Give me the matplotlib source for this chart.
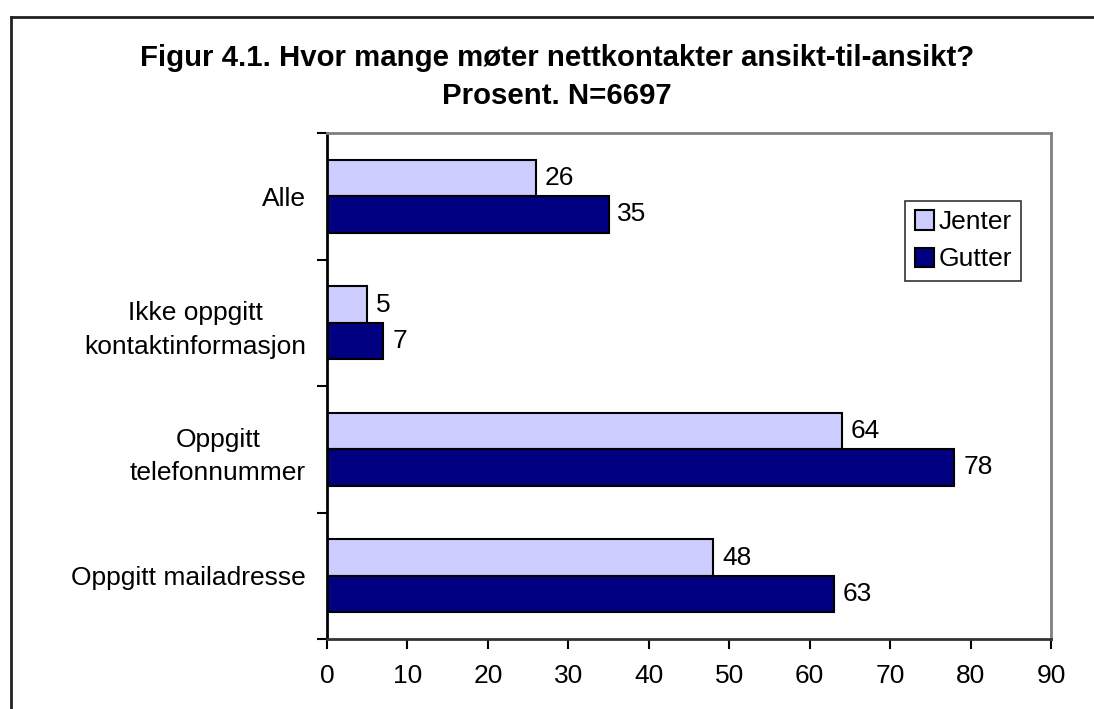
import matplotlib.pyplot as plt
from matplotlib.lines import Line2D
import numpy as np

plt.rcParams['font.family'] = ['Liberation Sans', 'DejaVu Sans']

categories = ["Alle", "Ikke oppgitt\nkontaktinformasjon", "Oppgitt\ntelefonnummer", "Oppgitt mailadresse"]
jenter = [26, 5, 64, 48]
gutter = [35, 7, 78, 63]
xticks = [0, 10, 20, 30, 40, 50, 60, 70, 80, 90]

fig = plt.figure(figsize=(10.94, 7.09), dpi=100)
ax = fig.add_axes([0.2989, 0.0987, 0.6618, 0.7137])

y = np.arange(len(categories))
h = 0.2875
b1 = ax.barh(y - h / 2, jenter, height=h, color="#CCCCFF", edgecolor="black", linewidth=1.5, label="Jenter")
b2 = ax.barh(y + h / 2, gutter, height=h, color="#000080", edgecolor="black", linewidth=1.5, label="Gutter")

for bars, vals in [(b1, jenter), (b2, gutter)]:
    for bar, v in zip(bars, vals):
        ax.text(bar.get_width() + 1.1, bar.get_y() + bar.get_height() / 2, str(v),
                va="center", ha="left", fontsize=19)

ax.set_xlim(0, 90)
ax.set_ylim(len(categories) - 0.5, -0.5)
ax.set_xticks(xticks)
ax.set_xticklabels([str(t) for t in xticks])
ax.tick_params(axis="x", direction="out", length=7, width=1.5, pad=11, labelsize=19)

ax.set_yticks(y)
ax.set_yticklabels(categories, multialignment="center", linespacing=1.5)
ax.set_yticks(np.arange(len(categories) + 1) - 0.5, minor=True)
ax.tick_params(axis="y", which="major", length=0, pad=15, labelsize=19)
ax.tick_params(axis="y", which="minor", direction="out", length=7, width=1.5)

ax.spines["left"].set_color("black")
ax.spines["bottom"].set_color("#333333")
ax.spines["top"].set_color("#808080")
ax.spines["right"].set_color("#808080")
for s in ax.spines.values():
    s.set_linewidth(2)

leg = ax.legend(loc="upper right", bbox_to_anchor=(0.9586, 0.8656), borderaxespad=0,
                fontsize=19, frameon=True, fancybox=False, handlelength=0.75, handleheight=0.75,
                handletextpad=0.15, borderpad=0.35, labelspacing=0.5)
leg.get_frame().set_edgecolor("black")
leg.get_frame().set_linewidth(1.2)

fig.text(0.509, 0.891, "Figur 4.1. Hvor mange møter nettkontakter ansikt-til-ansikt?\nProsent. N=6697",
         ha="center", va="center", fontsize=21.2, fontweight="bold", linespacing=1.45)

# outer chart frame (only top and left visible)
fig.add_artist(Line2D([0.0096, 1.0], [0.9767, 0.9767], color="#222222", linewidth=2, transform=fig.transFigure))
fig.add_artist(Line2D([0.0096, 0.0096], [0.0, 0.9767], color="#222222", linewidth=2, transform=fig.transFigure))

plt.savefig("out.png", dpi=100)
